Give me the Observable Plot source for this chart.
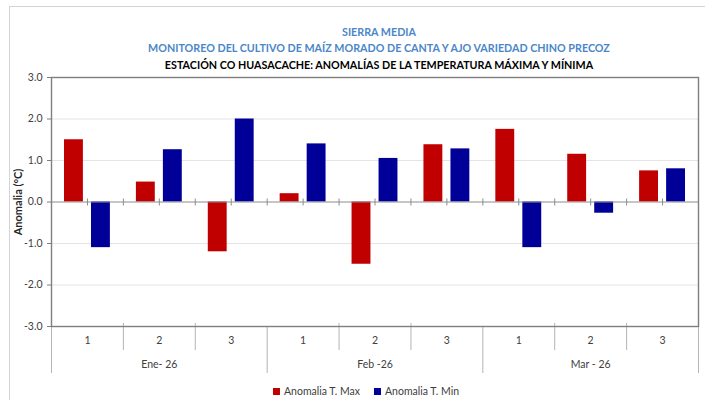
<!DOCTYPE html>
<html><head><meta charset="utf-8">
<script src="https://cdn.jsdelivr.net/npm/d3@7"></script>
<script src="https://cdn.jsdelivr.net/npm/@observablehq/plot@0.6"></script>
<style>
body{margin:0;width:705px;height:400px;overflow:hidden;background:#fff;font-family:Lato,sans-serif;position:relative}
#outer{position:absolute;left:9px;top:6px;width:720px;height:420px;border:1px solid #d4d4d4;box-sizing:border-box}
#chart{position:absolute;left:0;top:0}
.t{position:absolute;left:379px;transform:translate(-50%,-50%) scaleX(0.895);white-space:nowrap;font-weight:bold;font-size:12px}
.blue{color:#4A86C8}
.blk{color:#000}
#legend{position:absolute;left:366px;top:391px;transform:translate(-50%,-50%);white-space:nowrap;font-size:10.5px;color:#404040;display:flex;align-items:center}
#legend .sw{display:inline-block;width:7px;height:7px;margin-right:4px}
#legend .it{display:flex;align-items:center;margin:0 7px}
</style></head>
<body>
<div id="outer"></div>
<div id="chart"></div>
<div class="t blue" style="top:31px">SIERRA MEDIA</div>
<div class="t blue" style="top:47px">MONITOREO DEL CULTIVO DE MAÍZ MORADO DE CANTA Y AJO VARIEDAD CHINO PRECOZ</div>
<div class="t blk" style="top:64px">ESTACIÓN CO HUASACACHE: ANOMALÍAS DE LA TEMPERATURA MÁXIMA Y MÍNIMA</div>
<div id="legend"></div>
<script>
const months = ["Ene- 26", "Feb -26", "Mar - 26"];
const dekads = ["1", "2", "3"];
const tMax = [1.5, 0.48, -1.2, 0.2, -1.5, 1.38, 1.75, 1.15, 0.75];
const tMin = [-1.1, 1.26, 2.0, 1.4, 1.05, 1.28, -1.1, -0.27, 0.8];
const yTicks = [-3, -2, -1, 0, 1, 2, 3];
const seriesNames = ["Anomalia T. Max", "Anomalia T. Min"];
const colors = ["#C00000", "#000099"];
const yLabel = "Anomalia (°C)";

const nd = dekads.length;
const rows = months.flatMap((m, mi) => dekads.map((d, di) => {
  const i = mi * nd + di;
  return {month: m, dekad: d, i, max: tMax[i], min: tMin[i]};
}));
const n = rows.length;
const bounds = d3.range(0, n + 1);
const monthBounds = bounds.filter(b => b % nd === 0);
const dekBounds = bounds.filter(b => b % nd !== 0);
const halfTicks = d3.range(1, 2 * n).map(k => k / 2);
const monthCenters = months.map((m, mi) => ({month: m, x: mi * nd + nd / 2}));
const yMin = d3.min(yTicks), yMax = d3.max(yTicks);
const grid = yTicks.filter(t => t !== 0 && t !== yMin && t !== yMax);

const chart = Plot.plot({
  width: 705, height: 400,
  marginLeft: 51, marginRight: 7, marginTop: 77, marginBottom: 74,
  x: {domain: [0, n], axis: null},
  y: {domain: [yMin, yMax], axis: null},
  style: {fontFamily: "Lato, sans-serif", background: "transparent", overflow: "visible"},
  marks: [
    Plot.ruleY(grid, {stroke: "#e4e4e4"}),
    Plot.rect(rows, {x1: "i", x2: d => d.i + 1, y1: 0, y2: "max", fill: colors[0], insetLeft: 13, insetRight: 40}),
    Plot.rect(rows, {x1: "i", x2: d => d.i + 1, y1: 0, y2: "min", fill: colors[1], insetLeft: 40, insetRight: 13}),
    Plot.ruleY([0], {stroke: "#8c8c8c"}),
    Plot.ruleX(halfTicks, {y1: 0, y2: 0, insetTop: -3, insetBottom: -4, stroke: "#8c8c8c"}),
    Plot.ruleX(dekBounds, {y1: yMin, y2: yMin, insetTop: -3, insetBottom: -24, stroke: "#b4b4b4"}),
    Plot.ruleX(monthBounds, {y1: yMin, y2: yMin, insetTop: 0, insetBottom: -47, stroke: "#b4b4b4"}),
    Plot.frame({stroke: "#7f7f7f", strokeWidth: 1.4}),
    Plot.axisY(yTicks, {tickFormat: d => d.toFixed(1), tickSize: 4, tickPadding: 5, fontSize: 10.5, stroke: "#7f7f7f", fill: "#404040", label: null}),
    Plot.text([yLabel], {frameAnchor: "left", dx: -33, rotate: -90, textAnchor: "middle", fontWeight: "bold", fontSize: 11, fill: "#262626"}),
    Plot.text(rows, {x: d => d.i + 0.5, text: "dekad", frameAnchor: "bottom", dy: 17, fontSize: 10.5, fill: "#404040"}),
    Plot.text(monthCenters, {x: "x", text: "month", frameAnchor: "bottom", dy: 41, fontSize: 10.5, fill: "#404040"})
  ]
});
document.getElementById("chart").appendChild(chart);

const legend = d3.select("#legend");
seriesNames.forEach((s, k) => {
  const it = legend.append("span").attr("class", "it");
  it.append("span").attr("class", "sw").style("background", colors[k]);
  it.append("span").text(s);
});
</script>
</body></html>
